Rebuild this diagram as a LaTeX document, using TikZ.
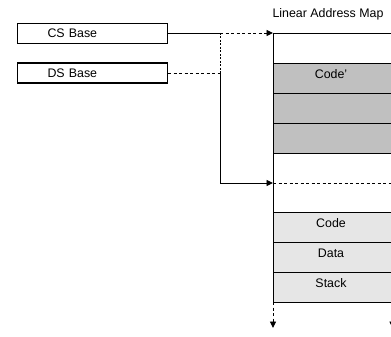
\documentclass[tikz,border=0pt]{standalone}
\usepackage{fontspec}
\setmainfont{Liberation Sans}
\usetikzlibrary{arrows.meta}
\definecolor{darkblock}{RGB}{192,192,192}
\definecolor{lightblock}{RGB}{230,230,230}
\tikzset{
  ln/.style={line width=0.95pt, black},
  dsh/.style={ln, dash pattern=on 3pt off 2.5pt},
  dots/.style={ln, dash pattern=on 2pt off 1.5pt},
  tip/.style={-{Triangle[length=6.5pt,width=6pt]}},
  basebox/.style={draw, line width=1.1pt, minimum height=20pt, text width=90pt, inner xsep=30pt, inner ysep=0pt, align=left, font=\fontsize{12.4}{14}\selectfont},
  blk/.style={draw, line width=0.95pt, minimum width=119pt, minimum height=30pt, inner sep=0pt, anchor=north west},
  lbl/.style={font=\fontsize{12.4}{14}\selectfont, anchor=base, inner sep=0pt},
}
\begin{document}
\begin{tikzpicture}[x=1pt,y=-1pt]
\useasboundingbox (0,0) rectangle (391,337);
% map blocks
\node[blk, fill=darkblock] (g1) at (273,63) {};
\node[blk, fill=darkblock] (g2) at (273,93) {};
\node[blk, fill=darkblock] (g3) at (273,123) {};
\node[blk, fill=lightblock] (l1) at (273,212) {};
\node[blk, fill=lightblock] (l2) at (273,242) {};
\node[blk, fill=lightblock] (l3) at (273,272) {};
\node[lbl] (tg1) at (331,78.5) {Code'};
\node[lbl] (tl1) at (331,227.5) {Code};
\node[lbl] (tl2) at (331,257.5) {Data};
\node[lbl] (tl3) at (331,287.5) {Stack};
\node[lbl] (title) at (328,18) {Linear Address Map};
% map frame
\coordinate (mtop) at (273,33);
\coordinate (mtopr) at (392.5,33);
\coordinate (mmid) at (273,183);
\coordinate (mmidr) at (392.5,183);
\coordinate (mbot) at (273,302);
\coordinate (mbotr) at (392.5,302);
\coordinate (aend) at (273,328);
\coordinate (aendr) at (392.5,328);
\draw[ln] (mtop) -- (mtopr);
\draw[ln] (mtop) -- (mbot);
\draw[ln] (mtopr) -- (mbotr);
\draw[dsh] (mmid) -- (mmidr);
\draw[dsh, tip] (mbot) -- (aend);
\draw[dsh, tip] (mbotr) -- (aendr);
% base boxes
\node[basebox] (cs) at (92.5,33.5) {CS Base};
\node[basebox] (ds) at (92.5,73) {DS Base};
% connectors
\coordinate (j1) at (220,33);
\coordinate (j2) at (220,73);
\coordinate (j3) at (220,183);
\draw[ln] (cs.east |- j1) -- (j1);
\draw[dsh, tip] (j1) -- (mtop);
\draw[dsh] (ds.east) -- (j2);
\draw[dots] (j1) -- (j2);
\draw[ln, tip] (j2) -- (j3) -- (mmid);
\end{tikzpicture}
\end{document}
